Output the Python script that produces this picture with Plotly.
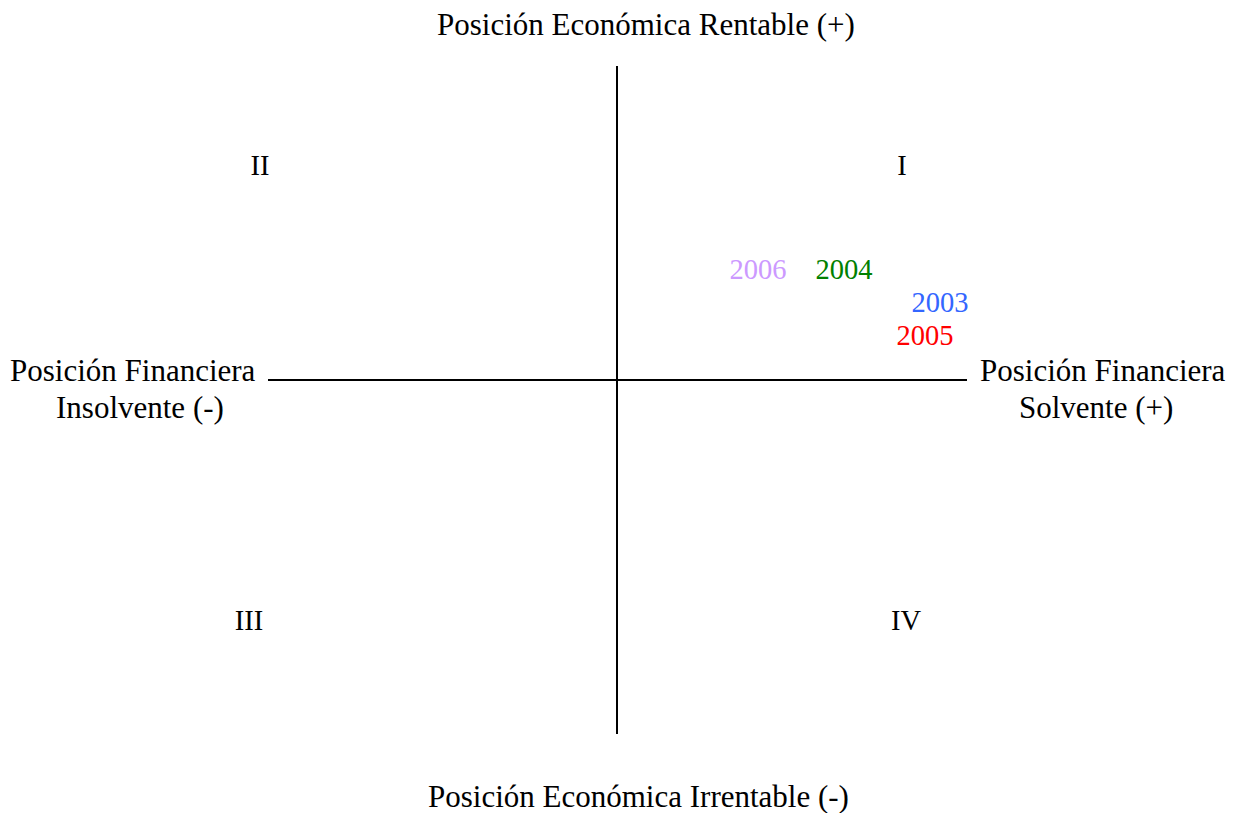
import plotly.graph_objects as go

# Year positions in the quadrant (financial position x, economic position y)
years = ["2006", "2004", "2003", "2005"]
fin_pos = [141, 227, 323, 308]
eco_pos = [108, 108, 75, 42]
year_colors = ["#CC99FF", "#008000", "#3366FF", "#FF0000"]

quad_labels = ["I", "II", "III", "IV"]
quad_x = [285, -357, -368, 289]
quad_y = [212, 212, -243, -243]

FONT = "Liberation Serif, Times New Roman, serif"
FS_SMALL = 28.5
FS_BIG = 31

fig = go.Figure()

# axes cross lines
fig.add_trace(go.Scatter(x=[-349, 350], y=[0, 0], mode="lines",
                         line=dict(color="black", width=2), hoverinfo="skip", showlegend=False))
fig.add_trace(go.Scatter(x=[0, 0], y=[314, -354], mode="lines",
                         line=dict(color="black", width=2), hoverinfo="skip", showlegend=False))

fig.add_trace(go.Scatter(x=fin_pos, y=eco_pos, mode="text", text=years,
                         textfont=dict(family=FONT, size=FS_SMALL, color=year_colors),
                         textposition="middle center", showlegend=False))

fig.add_trace(go.Scatter(x=quad_x, y=quad_y, mode="text", text=quad_labels,
                         textfont=dict(family=FONT, size=FS_SMALL, color="black"),
                         textposition="middle center", showlegend=False))

ann = [
    dict(x=29, y=356, text="Posición Económica Rentable (+)"),
    dict(x=21, y=-416, text="Posición Económica Irrentable (-)"),
    dict(x=-484, y=10, text="Posición Financiera"),
    dict(x=-477, y=-27, text="Insolvente (-)"),
    dict(x=486, y=10, text="Posición Financiera"),
    dict(x=479, y=-27, text="Solvente (+)"),
]
for a in ann:
    fig.add_annotation(x=a["x"], y=a["y"], text=a["text"], showarrow=False,
                       xref="x", yref="y", align="center", borderpad=0,
                       font=dict(family=FONT, size=FS_BIG, color="black"))

fig.update_layout(
    width=1229, height=805,
    margin=dict(l=0, r=0, t=0, b=0),
    paper_bgcolor="white", plot_bgcolor="white",
    xaxis=dict(range=[-609, 620], visible=False, fixedrange=True),
    yaxis=dict(range=[-433, 372], visible=False, fixedrange=True),
)

fig.write_html("out.html")
